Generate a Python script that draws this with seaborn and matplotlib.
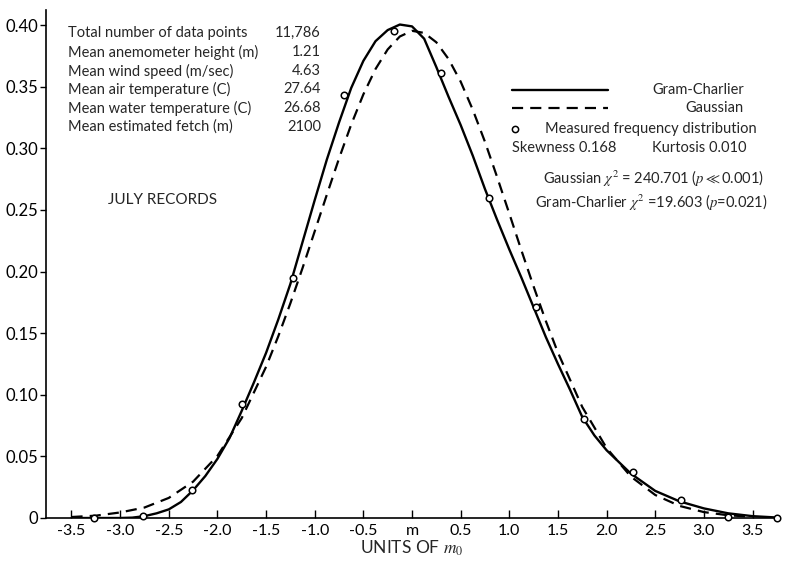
import matplotlib
matplotlib.use("Agg")
import matplotlib.pyplot as plt
import seaborn as sns

# ---------------- data ----------------
gc_x = [-3.5, -3.25, -3.0, -2.875, -2.75, -2.625, -2.5, -2.375, -2.25, -2.125,
        -2.0, -1.875, -1.75, -1.625, -1.5, -1.375, -1.25, -1.125, -1.0, -0.875,
        -0.75, -0.625, -0.5, -0.375, -0.25, -0.125, 0.0, 0.125, 0.25, 0.375,
        0.5, 0.625, 0.75, 0.875, 1.0, 1.125, 1.25, 1.375, 1.5, 1.625,
        1.75, 1.875, 2.0, 2.25, 2.5, 2.75, 3.0, 3.25, 3.5, 3.75]
gc_y = [0.0, 0.0, 0.0, 0.0003, 0.0015, 0.0038, 0.007, 0.013, 0.0225, 0.034,
        0.048, 0.065, 0.087, 0.110, 0.134, 0.161, 0.190, 0.224, 0.258, 0.291,
        0.321, 0.349, 0.371, 0.387, 0.396, 0.4005, 0.399, 0.389, 0.366, 0.342,
        0.319, 0.294, 0.267, 0.242, 0.218, 0.195, 0.171, 0.147, 0.125, 0.104,
        0.082, 0.067, 0.055, 0.036, 0.022, 0.0135, 0.0078, 0.0038, 0.0015, 0.0004]

gauss_x = [-3.5, -3.25, -3.0, -2.75, -2.5, -2.25, -2.0, -1.75, -1.5, -1.375,
           -1.25, -1.125, -1.0, -0.875, -0.75, -0.625, -0.5, -0.375, -0.25, -0.125,
           0.0, 0.125, 0.25, 0.375, 0.5, 0.625, 0.75, 0.875, 1.0, 1.125,
           1.25, 1.375, 1.5, 1.75, 2.0, 2.25, 2.5, 2.75, 3.0, 3.25, 3.5]
gauss_y = [0.0008, 0.0019, 0.0045, 0.0085, 0.0163, 0.0295, 0.0504, 0.0811, 0.1227, 0.1474,
           0.1743, 0.2029, 0.2327, 0.2625, 0.2918, 0.3193, 0.3438, 0.3644, 0.3803, 0.3908,
           0.3954, 0.3937, 0.3861, 0.3726, 0.3542, 0.3313, 0.3053, 0.2767, 0.2471, 0.2171,
           0.1879, 0.1600, 0.1342, 0.0901, 0.0568, 0.0336, 0.0187, 0.0098, 0.0048, 0.0022, 0.0010]

meas_x = [-3.27, -2.76, -2.26, -1.75, -1.22, -0.70, -0.19, 0.30, 0.79, 1.27,
          1.77, 2.27, 2.76, 3.25, 3.75]
meas_y = [0.0, 0.002, 0.023, 0.0925, 0.195, 0.343, 0.395, 0.361, 0.260, 0.171,
          0.080, 0.0376, 0.0146, 0.001, 0.0]

x_ticks = [-3.5, -3.0, -2.5, -2.0, -1.5, -1.0, -0.5, 0.0, 0.5, 1.0, 1.5, 2.0, 2.5, 3.0, 3.5]
x_ticklabels = ["-3.5", "-3.0", "-2.5", "-2.0", "-1.5", "-1.0", "-0.5", "m",
                "0.5", "1.0", "1.5", "2.0", "2.5", "3.0", "3.5"]
y_ticks = [0.0, 0.05, 0.10, 0.15, 0.20, 0.25, 0.30, 0.35, 0.40]
y_ticklabels = ["0", "0.05", "0.10", "0.15", "0.20", "0.25", "0.30", "0.35", "0.40"]

info_labels = ["Total number of data points", "Mean anemometer height (m)",
               "Mean wind speed (m/sec)", "Mean air temperature (C)",
               "Mean water temperature (C)", "Mean estimated fetch (m)"]
info_values = ["11,786", "1.21", "4.63", "27.64", "26.68", "2100"]

# ---------------- style ----------------
sns.set_theme(style="ticks")
plt.rcParams["font.family"] = ["Lato", "DejaVu Sans"]
plt.rcParams["mathtext.fontset"] = "stix"
FS = 10.5

W, H = 792, 563
fig = plt.figure(figsize=(W / 100, H / 100), dpi=100)
fig.patch.set_facecolor("white")
ax_l, ax_r, ax_b, ax_t = 46, 778, 518, 10
ax = fig.add_axes([ax_l / W, 1 - ax_b / H, (ax_r - ax_l) / W, (ax_b - ax_t) / H])
ax.set_facecolor("white")

sns.lineplot(x=gc_x, y=gc_y, ax=ax, color="black", lw=1.7)
sns.lineplot(x=gauss_x, y=gauss_y, ax=ax, color="black", lw=1.6,
             linestyle=(0, (5, 3.2)))
sns.scatterplot(x=meas_x, y=meas_y, ax=ax, marker="o", s=22,
                facecolor="white", edgecolor="black", linewidth=1.1, zorder=5,
                clip_on=False)

ax.set_xlim(-3.762, 3.762)
ax.set_ylim(0, 0.4123)
ax.set_xticks(x_ticks)
ax.set_xticklabels(x_ticklabels, fontsize=11.5)
ax.set_yticks(y_ticks)
ax.set_yticklabels(y_ticklabels, fontsize=12)
ax.tick_params(axis="x", direction="in", length=6, width=1.0, pad=4, colors="black")
ax.tick_params(axis="y", direction="out", length=4, width=1.0, pad=1.5, colors="black")
for s in ["top", "right"]:
    ax.spines[s].set_visible(False)
for s in ["left", "bottom"]:
    ax.spines[s].set_linewidth(1.2)
    ax.spines[s].set_color("black")
ax.set_xlabel("UNITS OF $m_0$", fontsize=12.5, labelpad=1)
ax.set_ylabel("")

def fx(px):
    return px / W

def fy(py):
    return 1 - py / H

# info block
rows_y = [33, 52, 71, 89, 108, 127]
for lab, val, ry in zip(info_labels, info_values, rows_y):
    fig.text(fx(68), fy(ry), lab, fontsize=FS, ha="left", va="center")
    fig.text(fx(321), fy(ry), val, fontsize=FS, ha="right", va="center")

fig.text(fx(108), fy(200), "JULY RECORDS", fontsize=FS + 0.5, ha="left", va="center")

# legend-like annotation
fig.add_artist(plt.Line2D([fx(512), fx(608)], [fy(90), fy(90)], color="black", lw=1.7))
fig.add_artist(plt.Line2D([fx(512), fx(608)], [fy(108), fy(108)], color="black", lw=1.6,
                          linestyle=(0, (5, 3.2))))
fig.text(fx(744), fy(90), "Gram-Charlier", fontsize=FS, ha="right", va="center")
fig.text(fx(744), fy(108), "Gaussian", fontsize=FS, ha="right", va="center")
fig.add_artist(plt.Line2D([fx(515)], [fy(129)], marker="o", markersize=4.5,
                          markerfacecolor="white", markeredgecolor="black",
                          markeredgewidth=1.1, linestyle="none"))
fig.text(fx(545), fy(129), "Measured frequency distribution", fontsize=FS,
         ha="left", va="center")
fig.text(fx(512), fy(148), "Skewness 0.168", fontsize=FS, ha="left", va="center")
fig.text(fx(652), fy(148), "Kurtosis 0.010", fontsize=FS, ha="left", va="center")
fig.text(fx(543), fy(178), r"Gaussian $\chi^2$ = 240.701 ($p$$\ll$0.001)", fontsize=FS,
         ha="left", va="center")
fig.text(fx(535), fy(202), r"Gram-Charlier $\chi^2$ =19.603 ($p$=0.021)", fontsize=FS,
         ha="left", va="center")

fig.savefig("out.png", dpi=100, facecolor="white")
